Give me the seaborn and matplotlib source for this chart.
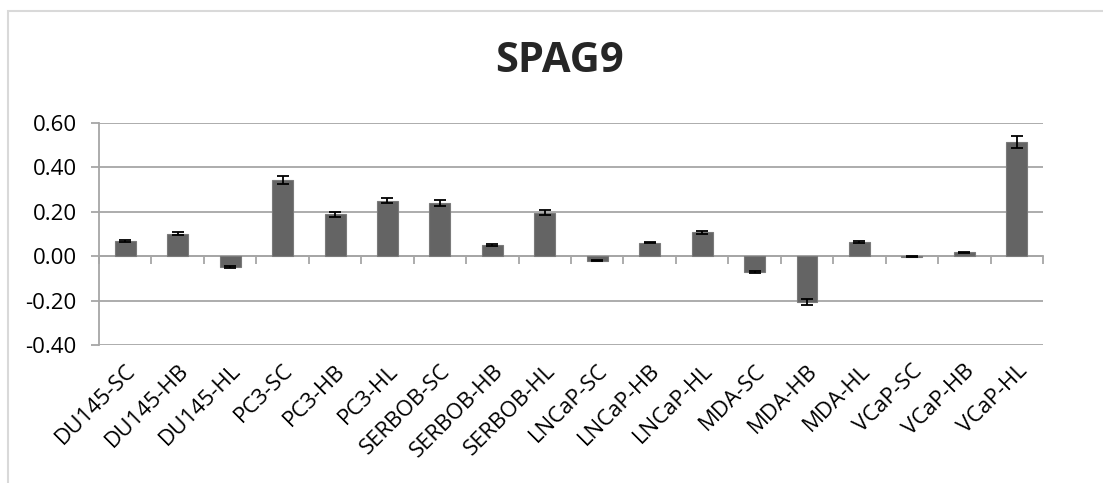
import matplotlib
matplotlib.use('Agg')
import matplotlib.pyplot as plt
from matplotlib.patches import Rectangle
import numpy as np
import pandas as pd
import seaborn as sns

samples = ['DU145-SC', 'DU145-HB', 'DU145-HL', 'PC3-SC', 'PC3-HB', 'PC3-HL',
           'SERBOB-SC', 'SERBOB-HB', 'SERBOB-HL', 'LNCaP-SC', 'LNCaP-HB', 'LNCaP-HL',
           'MDA-SC', 'MDA-HB', 'MDA-HL', 'VCaP-SC', 'VCaP-HB', 'VCaP-HL']
values = [0.068, 0.102, -0.048, 0.342, 0.188, 0.250,
          0.240, 0.050, 0.196, -0.020, 0.061, 0.108,
          -0.071, -0.207, 0.064, -0.003, 0.017, 0.515]
errors = [0.003, 0.005, 0.003, 0.018, 0.010, 0.012,
          0.013, 0.003, 0.012, 0.003, 0.003, 0.007,
          0.004, 0.013, 0.003, 0.002, 0.003, 0.027]
yticks = [-0.40, -0.20, 0.00, 0.20, 0.40, 0.60]

sns.set_style('white')
plt.rcParams['font.family'] = ['Open Sans', 'DejaVu Sans']

df = pd.DataFrame({'sample': samples, 'value': values})

fig = plt.figure(figsize=(11.03, 4.83), dpi=100)
ax = fig.add_axes([0.0898, 0.2857, 0.8558, 0.4596])

sns.barplot(data=df, x='sample', y='value', color='#646464', saturation=1,
            width=0.4, edgecolor='#7a7a7a', linewidth=0.8, ax=ax)
ax.errorbar(np.arange(len(samples)), values, yerr=errors, fmt='none',
            ecolor='black', elinewidth=1.3, capsize=4.5, capthick=1.3, zorder=4)

grid_col = '#a6a6a6'
ax.set_ylim(-0.40, 0.60)
ax.set_xlim(-0.5, len(samples) - 0.5)
ax.set_yticks(yticks)
ax.set_yticklabels(['%.2f' % t for t in yticks])
ax.yaxis.grid(True, color=grid_col, linewidth=1.3)
ax.set_axisbelow(True)
for s in ['top', 'right', 'bottom']:
    ax.spines[s].set_visible(False)
ax.spines['left'].set_color(grid_col)
ax.spines['left'].set_linewidth(1.3)
ax.tick_params(axis='y', length=6, width=1.3, color=grid_col, pad=10,
               labelsize=16, labelcolor='black', left=True)
ax.tick_params(axis='x', length=0, pad=11, labelsize=16, labelcolor='black')
plt.setp(ax.get_xticklabels(), rotation=45, ha='right', rotation_mode='anchor')
ax.set_xlabel('')
ax.set_ylabel('')

# category axis drawn at zero with ticks between categories
zero_loc = (0 - yticks[0]) / (yticks[-1] - yticks[0])
sec = ax.secondary_xaxis(zero_loc)
sec.set_xticks(np.arange(len(samples) + 1) - 0.5)
sec.set_xticklabels([])
sec.tick_params(axis='x', direction='out', length=6, width=1.3, color=grid_col)
sec.spines['bottom'].set_color(grid_col)
sec.spines['bottom'].set_linewidth(1.3)

fig.text(0.507, 0.872, 'SPAG9', ha='center', va='center', fontsize=30,
         fontweight='bold')

fig.patches.append(Rectangle((8 / 1103, -0.1), 1.2, 1.1 - 11 / 483,
                             transform=fig.transFigure, fill=False,
                             edgecolor='#d9d9d9', linewidth=1.5))

fig.savefig('out.png', dpi=100)
plt.close()
